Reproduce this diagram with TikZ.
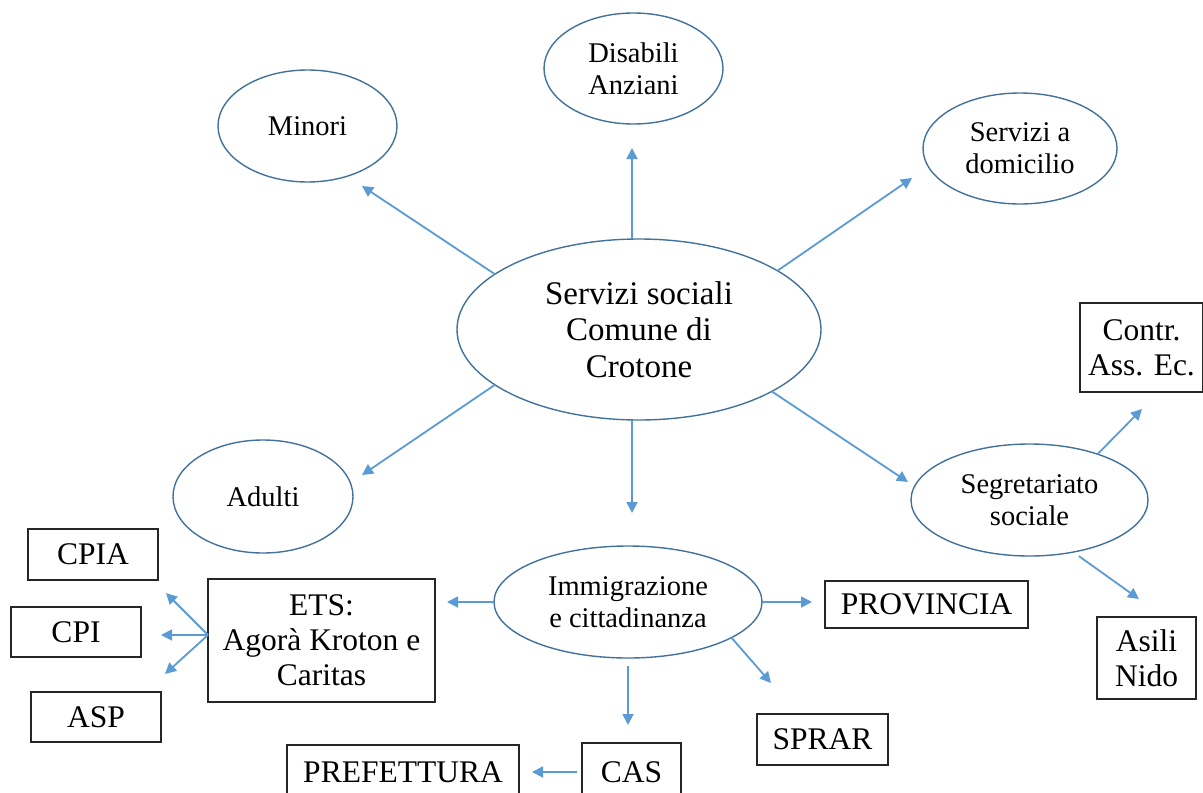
\documentclass[tikz,border=0pt]{standalone}
\usepackage{fontspec}
\setmainfont{Liberation Serif}
\usetikzlibrary{shapes.geometric,arrows.meta}
\definecolor{ellline}{HTML}{41719C}
\definecolor{arrline}{HTML}{5B9BD5}
\definecolor{boxline}{HTML}{262626}
\tikzset{
  ell/.style={ellipse, draw=ellline, line width=0.7pt, inner sep=0pt, outer sep=0pt,
    align=center, font=\fontsize{14.25}{16}\selectfont},
  hub/.style={ell, font=\fontsize{16.5}{18.25}\selectfont},
  box/.style={rectangle, draw=boxline, line width=0.75pt, inner sep=0pt, outer sep=0pt,
    align=center, font=\fontsize{15.75}{17.5}\selectfont},
  arr/.style={draw=arrline, line width=0.9pt, -{Triangle[length=5.5pt,width=5.5pt]}},
}
\begin{document}
\begin{tikzpicture}[x=0.5pt,y=-0.5pt]
\useasboundingbox (0,0) rectangle (1203,792);
\clip (0,0) rectangle (1203,792);

% central hub and the service areas around it
\node[hub, minimum width=182pt, minimum height=90.5pt] (main) at (639,329.5) {Servizi sociali\\Comune di\\Crotone};
\node[ell, minimum width=89.5pt, minimum height=56pt] (minori) at (307.5,126) {Minori};
\node[ell, minimum width=89.5pt, minimum height=55.5pt] (disabili) at (633.5,68.5) {Disabili\\Anziani};
\node[ell, minimum width=97pt, minimum height=55.5pt] (domicilio) at (1020,148.5) {Servizi a\\domicilio};
\node[ell, minimum width=90pt, minimum height=56.5pt] (adulti) at (263,496.5) {Adulti};
\node[ell, minimum width=118.5pt, minimum height=56pt] (segr) at (1029.5,500) {Segretariato\\sociale};
\node[ell, minimum width=134pt, minimum height=56pt] (immigr) at (628,602) {Immigrazione\\e cittadinanza};

% partner offices
\node[box, minimum width=61.5pt, minimum height=44.5pt] (contr) at (1141.5,347.5) {Contr.\\Ass. Ec.};
\node[box, minimum width=49.5pt, minimum height=41pt] (asili) at (1146.5,658) {Asili\\Nido};
\node[box, minimum width=101.5pt, minimum height=23.5pt] (provincia) at (926.5,604.5) {PROVINCIA};
\node[box, minimum width=65.5pt, minimum height=25.5pt] (sprar) at (822.5,739.5) {SPRAR};
\node[box, minimum width=49.5pt, minimum height=29pt] (cas) at (631.5,772) {CAS};
\node[box, minimum width=116pt, minimum height=27pt] (pref) at (403,772) {PREFETTURA};
\node[box, minimum width=113.5pt, minimum height=61.5pt] (ets) at (321.5,640.5) {ETS:\\Agorà Kroton e\\Caritas};
\node[box, minimum width=65pt, minimum height=25.5pt] (cpia) at (93,554.5) {CPIA};
\node[box, minimum width=65pt, minimum height=25pt] (cpi) at (76,632) {CPI};
\node[box, minimum width=65pt, minimum height=25pt] (asp) at (96,717) {ASP};

% arrow tips (arrows stop short of their targets)
\coordinate (tMinori) at (362,186);
\coordinate (tDisabili) at (632,148);
\coordinate (tDomicilio) at (912,178);
\coordinate (tAdulti) at (362,475);
\coordinate (tImmigr) at (632,513);
\coordinate (tSegr) at (908,482);
\coordinate (tContr) at (1142,409);
\coordinate (tAsili) at (1139,599);
\coordinate (tEts) at (447,602);
\coordinate (tProv) at (812,602);
\coordinate (tSprar) at (771,683);
\coordinate (tCas) at (628,725);
\coordinate (tPref) at (532,772);
\coordinate (tCpia) at (166,593);
\coordinate (tCpi) at (161,635);
\coordinate (tAsp) at (165,674);

% connectors
\draw[arr] (main.159.5) -- (tMinori);
\draw[arr] (main.north -| tDisabili) -- (tDisabili);
\draw[arr] (main.23.4) -- (tDomicilio);
\draw[arr] (main.201.8) -- (tAdulti);
\draw[arr] (main.south -| tImmigr) -- (tImmigr);
\draw[arr] (main.335.3) -- (tSegr);
\draw[arr] (segr.34.8) -- (tContr);
\draw[arr, shorten <=3.5pt] (segr.-50.1) -- (tAsili);
\draw[arr] (immigr.west) -- (tEts);
\draw[arr] (immigr.east) -- (tProv);
\draw[arr] (immigr.341.4) -- (tSprar);
\draw[arr, shorten <=4pt] (immigr.south) -- (tCas);
\draw[arr, shorten <=2.5pt] (cas.west) -- (tPref);
\draw[arr] ([yshift=2.75pt]ets.west) -- (tCpia);
\draw[arr] ([yshift=2.75pt]ets.west) -- (tCpi);
\draw[arr] ([yshift=2.75pt]ets.west) -- (tAsp);
\end{tikzpicture}
\end{document}
